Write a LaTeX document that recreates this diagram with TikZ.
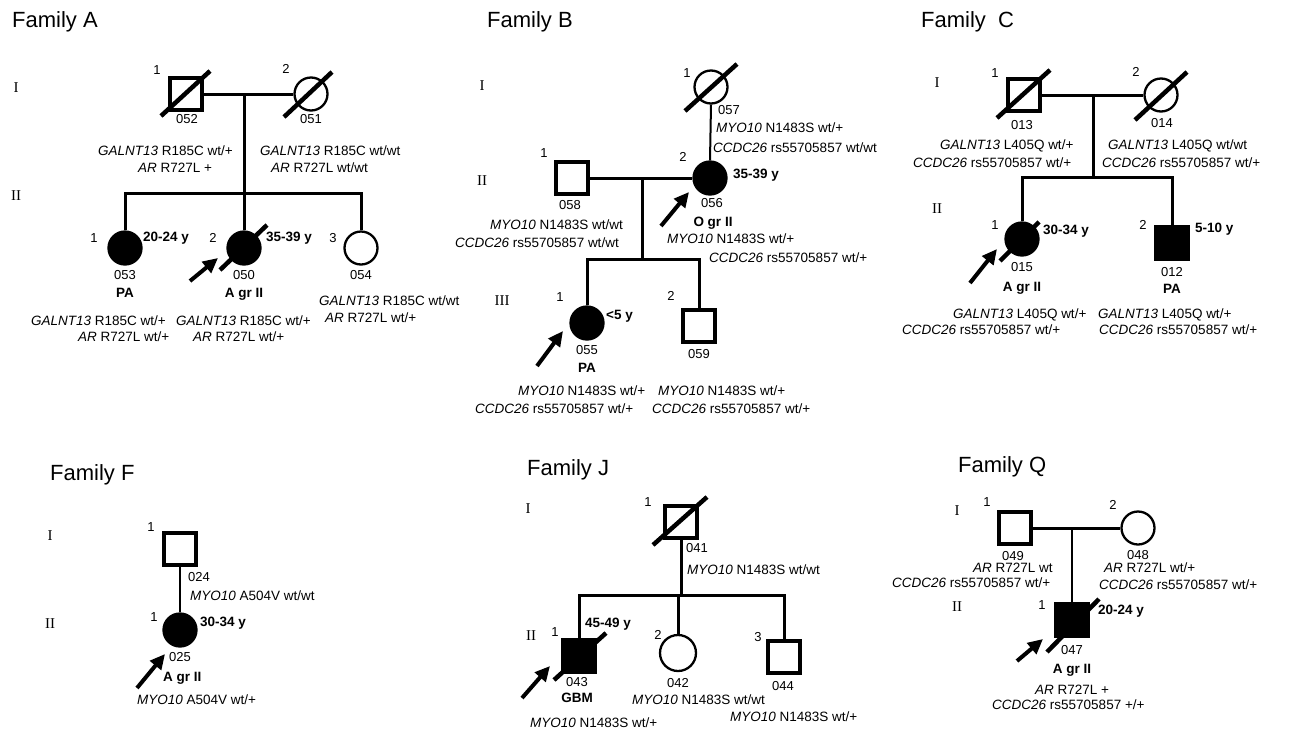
\documentclass[tikz,border=0pt]{standalone}
\usepackage{fontspec}
\setmainfont{Liberation Sans}
\newfontfamily\romfont{Liberation Serif}
\usetikzlibrary{arrows.meta}
\tikzset{
  male/.style={draw, rectangle, minimum size=31.5pt, inner sep=0pt, line width=4.3pt},
  female/.style={draw, circle, minimum size=33pt, inner sep=0pt, line width=2.3pt},
  aff/.style={fill=black},
  link/.style={line width=3pt},
  thinlink/.style={line width=2pt},
  dslash/.style={line width=4.5pt},
  proband/.style={line width=4pt, -{Triangle[length=15pt,width=14pt]}},
  gt/.style={font=\fontsize{13.5}{14}\selectfont, inner sep=0pt, anchor=west, text height=9.5pt, text depth=0pt},
  idn/.style={font=\fontsize{13}{14}\selectfont, inner sep=0pt, text height=9pt, text depth=0pt},
  agel/.style={font=\bfseries\fontsize{13.5}{14}\selectfont, inner sep=0pt, anchor=west, text height=9.5pt, text depth=0pt},
  dxl/.style={font=\bfseries\fontsize{13.5}{14}\selectfont, inner sep=0pt, text height=9.5pt, text depth=0pt},
  genl/.style={font=\romfont\fontsize{15}{16}\selectfont, inner sep=0pt, text height=10pt, text depth=0pt},
  faml/.style={font=\fontsize{22}{24}\selectfont, inner sep=0pt, anchor=west, text height=15.5pt, text depth=0pt}
}
\begin{document}
\begin{tikzpicture}[x=1pt,y=-1pt]
\fill[white] (0,0) rectangle (1291,729);
\useasboundingbox (0,0) rectangle (1291,729);

% ================= Family A =================
\node[faml] (tA) at (12,20) {Family A};
\node[genl] (gA1) at (16,87) {I};
\node[genl] (gA2) at (16,195) {II};
\node[male] (a11) at (186,94) {};
\node[female] (a12) at (311,94) {};
\draw[dslash] ([shift={(-25,22)}]a11.center) -- ([shift={(24,-23)}]a11.center);
\draw[dslash] ([shift={(-27,23)}]a12.center) -- ([shift={(21,-22)}]a12.center);
\coordinate (aM) at (244,94);
\coordinate (aS) at (244,193);
\node[female,aff] (a21) at (125,248) {};
\node[female,aff] (a22) at (244,248) {};
\node[female] (a23) at (361,248) {};
\draw[dslash] ([shift={(-24,22)}]a22.center) -- ([shift={(23,-23)}]a22.center);
\draw[link] (a11.east) -- (a12.west);
\draw[link] (aM) -- (aS);
\draw[link] (a21.north) -- (a21.north |- aS) -- (a23.north |- aS) -- (a23.north);
\draw[link] (a22.north) -- (a22.north |- aS);
\draw[proband] ([shift={(-54,33)}]a22.center) -- ([shift={(-26,10)}]a22.center);
\node[idn] (nA11) at (157,70) {1};
\node[idn] (nA12) at (286,69) {2};
\node[idn] (iA11) at (187,119) {052};
\node[idn] (iA12) at (311,119) {051};
\node[gt] at (98,151) {\textit{GALNT13} R185C wt/+};
\node[gt] at (138,168) {\textit{AR} R727L +};
\node[gt] at (260,151) {\textit{GALNT13} R185C wt/wt};
\node[gt] at (271,168) {\textit{AR} R727L wt/wt};
\node[idn] at (94,238) {1};
\node[idn] at (213,238) {2};
\node[idn] at (333,238) {3};
\node[agel] at (143,237) {20-24 y};
\node[agel] at (266,237) {35-39 y};
\node[idn] at (125,275) {053};
\node[idn] at (244,275) {050};
\node[idn] at (361,275) {054};
\node[dxl] at (125,293) {PA};
\node[dxl] at (244,293) {A gr II};
\node[gt] at (31,321) {\textit{GALNT13} R185C wt/+};
\node[gt] at (78,337) {\textit{AR} R727L wt/+};
\node[gt] at (176,321) {\textit{GALNT13} R185C wt/+};
\node[gt] at (193,337) {\textit{AR} R727L wt/+};
\node[gt] at (319,301) {\textit{GALNT13} R185C wt/wt};
\node[gt] at (325,318) {\textit{AR} R727L wt/+};

% ================= Family B =================
\node[faml] (tB) at (487,20) {Family B};
\node[genl] at (482,85) {I};
\node[genl] at (482,180) {II};
\node[genl] at (502,300) {III};
\node[female] (b11) at (711,87) {};
\draw[dslash] ([shift={(-26,24)}]b11.center) -- ([shift={(26,-23)}]b11.center);
\node[male] (b21) at (572,178) {};
\node[female,aff] (b22) at (710,178) {};
\coordinate (bM) at (642,178);
\coordinate (bS) at (642,259);
\node[female,aff] (b31) at (587,323) {};
\node[male] (b32) at (699,326) {};
\draw[thinlink] (b11.south) -- (b22.north);
\draw[link] (b21.east) -- (b22.west);
\draw[link] (bM) -- (bS);
\draw[link] (b31.north) -- (b31.north |- bS) -- (b32.north |- bS) -- (b32.north);
\draw[proband] ([shift={(-49,48)}]b22.center) -- ([shift={(-21,14)}]b22.center);
\draw[proband] ([shift={(-50,43)}]b31.center) -- ([shift={(-24,8)}]b31.center);
\node[idn] at (687,73) {1};
\node[idn] at (729,110) {057};
\node[gt] at (716,128) {\textit{MYO10} N1483S wt/+};
\node[gt] at (713,148) {\textit{CCDC26} rs55705857 wt/wt};
\node[idn] at (544,153) {1};
\node[idn] at (570,205) {058};
\node[idn] at (683,157) {2};
\node[agel] at (733,174) {35-39 y};
\node[idn] at (712,203) {056};
\node[dxl] at (713,222) {O gr II};
\node[gt] at (490,225) {\textit{MYO10} N1483S wt/wt};
\node[gt] at (455,243) {\textit{CCDC26} rs55705857 wt/wt};
\node[gt] at (667,239) {\textit{MYO10} N1483S wt/+};
\node[gt] at (709,258) {\textit{CCDC26} rs55705857 wt/+};
\node[idn] at (560,297) {1};
\node[agel] at (606,315) {<5 y};
\node[idn] at (587,350) {055};
\node[dxl] at (587,368) {PA};
\node[idn] at (671,296) {2};
\node[idn] at (699,354) {059};
\node[gt] at (518,391) {\textit{MYO10} N1483S wt/+};
\node[gt] at (475,409) {\textit{CCDC26} rs55705857 wt/+};
\node[gt] at (658,391) {\textit{MYO10} N1483S wt/+};
\node[gt] at (652,409) {\textit{CCDC26} rs55705857 wt/+};

% ================= Family C =================
\node[faml] (tC) at (921,20) {Family\ \ C};
\node[genl] at (937,82) {I};
\node[genl] at (937,208) {II};
\node[male] (c11) at (1024,95) {};
\node[female] (c12) at (1161,95) {};
\draw[dslash] ([shift={(-27,23)}]c11.center) -- ([shift={(26,-25)}]c11.center);
\draw[dslash] ([shift={(-26,25)}]c12.center) -- ([shift={(26,-23)}]c12.center);
\coordinate (cM) at (1093,95);
\coordinate (cS) at (1093,177);
\node[female,aff] (c21) at (1022,239) {};
\node[male,aff] (c22) at (1172,243) {};
\draw[dslash] ([shift={(-22,22)}]c21.center) -- ([shift={(17,-17)}]c21.center);
\draw[link] (c11.east) -- (c12.west);
\draw[link] (cM) -- (cS);
\draw[link] (c21.north) -- (c21.north |- cS) -- (c22.north |- cS) -- (c22.north);
\draw[proband] ([shift={(-52,44)}]c21.center) -- ([shift={(-25,10)}]c21.center);
\node[idn] at (995,73) {1};
\node[idn] at (1022,125) {013};
\node[idn] at (1136,72) {2};
\node[idn] at (1162,123) {014};
\node[gt] at (940,145) {\textit{GALNT13} L405Q wt/+};
\node[gt] at (913,163) {\textit{CCDC26} rs55705857 wt/+};
\node[gt] at (1108,145) {\textit{GALNT13} L405Q wt/wt};
\node[gt] at (1102,163) {\textit{CCDC26} rs55705857 wt/+};
\node[idn] at (995,225) {1};
\node[agel] at (1043,230) {30-34 y};
\node[idn] at (1022,267) {015};
\node[dxl] at (1022,287) {A gr II};
\node[idn] at (1143,225) {2};
\node[agel] at (1195,228) {5-10 y};
\node[idn] at (1172,272) {012};
\node[dxl] at (1172,289) {PA};
\node[gt] at (953,314) {\textit{GALNT13} L405Q wt/+};
\node[gt] at (902,330) {\textit{CCDC26} rs55705857 wt/+};
\node[gt] at (1098,314) {\textit{GALNT13} L405Q wt/+};
\node[gt] at (1099,330) {\textit{CCDC26} rs55705857 wt/+};

% ================= Family F =================
\node[faml] (tF) at (50,473) {Family F};
\node[genl] at (50,535) {I};
\node[genl] at (50,623) {II};
\node[male] (f11) at (180,549) {};
\node[female,aff] (f21) at (180,630) {};
\draw[thinlink] (f11.south) -- (f21.north);
\draw[proband] ([shift={(-43,58)}]f21.center) -- ([shift={(-15,24)}]f21.center);
\node[idn] at (151,527) {1};
\node[idn] at (199,577) {024};
\node[gt] at (190,596) {\textit{MYO10} A504V wt/wt};
\node[idn] at (154,617) {1};
\node[agel] at (200,622) {30-34 y};
\node[idn] at (180,657) {025};
\node[dxl,anchor=west] at (163,677) {A gr II};
\node[gt] at (137,700) {\textit{MYO10} A504V wt/+};

% ================= Family J =================
\node[faml] (tJ) at (527,468) {Family J};
\node[genl] at (528,508) {I};
\node[genl] at (531,635) {II};
\node[male] (j11) at (681,522) {};
\draw[dslash] ([shift={(-28,23)}]j11.center) -- ([shift={(26,-25)}]j11.center);
\coordinate (jS) at (681,595);
\node[male,aff] (j21) at (579,656) {};
\node[female,minimum size=36pt] (j22) at (678,653) {};
\node[male] (j23) at (784,657) {};
\draw[dslash] ([shift={(-25,24)}]j21.center) -- ([shift={(27,-23)}]j21.center);
\draw[link] (j11.south) -- (jS);
\draw[link] (j21.north) -- (j21.north |- jS) -- (j23.north |- jS) -- (j23.north);
\draw[link] (j22.north) -- (j22.north |- jS);
\draw[proband] ([shift={(-57,42)}]j21.center) -- ([shift={(-29,10)}]j21.center);
\node[idn] at (648,502) {1};
\node[idn] at (697,548) {041};
\node[gt] at (687,570) {\textit{MYO10} N1483S wt/wt};
\node[idn] at (555,632) {1};
\node[agel] at (585,623) {45-49 y};
\node[idn] at (577,682) {043};
\node[dxl] at (577,698) {GBM};
\node[gt] at (530,723) {\textit{MYO10} N1483S wt/+};
\node[idn] at (658,635) {2};
\node[idn] at (678,683) {042};
\node[gt] at (632,700) {\textit{MYO10} N1483S wt/wt};
\node[idn] at (758,637) {3};
\node[idn] at (783,686) {044};
\node[gt] at (730,717) {\textit{MYO10} N1483S wt/+};

% ================= Family Q =================
\node[faml] (tQ) at (958,465) {Family Q};
\node[genl] at (957,510) {I};
\node[genl] at (957,606) {II};
\node[male] (q11) at (1015,528) {};
\node[female] (q12) at (1138,528) {};
\coordinate (qM) at (1072,528);
\node[male,aff] (q21) at (1072,620) {};
\draw[dslash] ([shift={(-25,32)}]q21.center) -- ([shift={(27,-21)}]q21.center);
\draw[link] (q11.east) -- (q12.west);
\draw[line width=2.5pt] (qM) -- (q21.north);
\draw[proband] ([shift={(-55,41)}]q21.center) -- ([shift={(-29,19)}]q21.center);
\node[idn] at (987,502) {1};
\node[idn] at (1013,556) {049};
\node[gt] at (973,568) {\textit{AR} R727L wt};
\node[gt] at (892,583) {\textit{CCDC26} rs55705857 wt/+};
\node[idn] at (1113,505) {2};
\node[idn] at (1138,555) {048};
\node[gt] at (1104,568) {\textit{AR} R727L wt/+};
\node[gt] at (1099,585) {\textit{CCDC26} rs55705857 wt/+};
\node[idn] at (1042,605) {1};
\node[agel] at (1098,610) {20-24 y};
\node[idn] at (1072,650) {047};
\node[dxl] at (1072,669) {A gr II};
\node[gt] at (1035,690) {\textit{AR} R727L +};
\node[gt] at (992,705) {\textit{CCDC26} rs55705857 +/+};
\end{tikzpicture}
\end{document}
